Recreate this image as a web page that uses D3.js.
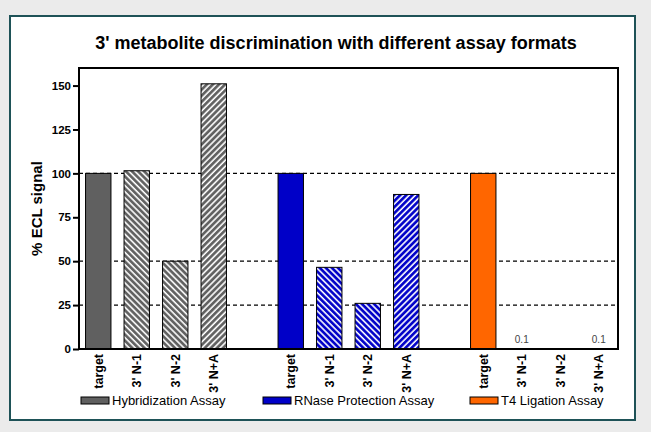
<!DOCTYPE html>
<html>
  <head>
    <title>3' metabolite discrimination</title>
    <script src="https://d3js.org/d3.v7.min.js"></script>
    <style>
      body { margin: 0; background: #ebebeb; }
      text { font-family: "Liberation Sans", Arial, sans-serif; }
    </style>
  </head>
  <body>
    <svg width="651" height="432"></svg>
    <script>
      const assays = ["Hybridization Assay", "RNase Protection Assay", "T4 Ligation Assay"];
      const probes = ["target", "3' N-1", "3' N-2", "3' N+A"];
      const hybridization = [100, 101.5, 50, 151];
      const rnase = [100, 46.5, 26, 88];
      const ligation = [100, 0.1, 0, 0.1];
      const yTicks = [0, 25, 50, 75, 100, 125, 150];
      const gridValues = [25, 50, 100];

      const colors = ["#606060", "#0000c8", "#ff6600"];
      const series = [hybridization, rnase, ligation];

      // flatten into bars, with spacer slots between groups
      const bars = [];
      const slots = [];
      assays.forEach((a, gi) => {
        probes.forEach((p, pi) => {
          const key = gi + "|" + pi;
          slots.push(key);
          bars.push({key, group: gi, probe: p, pi, value: series[gi][pi]});
        });
        if (gi < assays.length - 1) slots.push("gap" + gi);
      });

      const svg = d3.select("svg");
      const margin = {left: 79, right: 33, top: 68, bottom: 83};
      const width = 651 - margin.left - margin.right;
      const height = 432 - margin.top - margin.bottom;

      // outer frame
      svg.append("rect")
        .attr("x", 10).attr("y", 16)
        .attr("width", 625).attr("height", 404)
        .attr("fill", "#fff")
        .attr("stroke", "#1e5257")
        .attr("stroke-width", 2);

      // hatch patterns
      const defs = svg.append("defs");
      colors.forEach((c, i) => {
        [["back", -45], ["fwd", 45]].forEach(([name, angle]) => {
          const p = defs.append("pattern")
            .attr("id", "hatch-" + i + "-" + name)
            .attr("patternUnits", "userSpaceOnUse")
            .attr("width", 4.3).attr("height", 4.3)
            .attr("patternTransform", "rotate(" + angle + ")");
          p.append("rect").attr("width", 4.3).attr("height", 4.3).attr("fill", c);
          p.append("line")
            .attr("x1", 1).attr("x2", 1).attr("y1", 0).attr("y2", 4.3)
            .attr("stroke", "#fff").attr("stroke-width", 1.6);
        });
      });

      const g = svg.append("g").attr("transform", `translate(${margin.left},${margin.top})`);

      const x = d3.scaleBand().domain(slots).range([0, width]).paddingInner(0.34).paddingOuter(0.17);
      const y = d3.scaleLinear().domain([0, 160]).range([height, 0]);

      // dashed grid
      g.selectAll(".grid").data(gridValues).enter().append("line")
        .attr("x1", 0).attr("x2", width)
        .attr("y1", d => y(d)).attr("y2", d => y(d))
        .attr("stroke", "#000")
        .attr("stroke-width", 1.3)
        .attr("stroke-dasharray", "4,3");

      g.selectAll(".bar").data(bars).enter().append("rect")
        .attr("x", d => x(d.key))
        .attr("width", x.bandwidth())
        .attr("y", d => y(d.value))
        .attr("height", d => height - y(d.value))
        .attr("fill", d => d.pi === 0 ? colors[d.group]
          : "url(#hatch-" + d.group + "-" + (d.pi === 3 ? "fwd" : "back") + ")")
        .attr("stroke", "#000")
        .attr("stroke-width", 1)
        .attr("display", d => d.value > 1 ? null : "none");

      // small value labels
      g.selectAll(".small").data(bars.filter(d => d.value > 0 && d.value < 1)).enter().append("text")
        .attr("x", d => x(d.key) + x.bandwidth() / 2)
        .attr("y", d => y(d.value) - 6)
        .attr("text-anchor", "middle")
        .attr("font-size", 10)
        .attr("fill", "#444")
        .text(d => d.value);

      // plot box
      g.append("rect")
        .attr("width", width).attr("height", height)
        .attr("fill", "none").attr("stroke", "#000").attr("stroke-width", 2);

      // y axis
      const yAxis = g.append("g")
        .call(d3.axisLeft(y).tickValues(yTicks).tickSize(6).tickPadding(2));
      yAxis.select(".domain").remove();
      yAxis.selectAll("line").attr("stroke-width", 2);
      yAxis.selectAll("text").attr("font-size", 11.5).attr("font-weight", "bold").attr("fill", "#000");

      // x labels
      g.selectAll(".xl").data(bars).enter().append("text")
        .attr("transform", d => `translate(${x(d.key) + x.bandwidth() / 2 + 4.5},${height + 5}) rotate(-90)`)
        .attr("text-anchor", "end")
        .attr("font-size", 12.5)
        .attr("font-weight", "bold")
        .text(d => d.probe);

      // y label
      svg.append("text")
        .attr("transform", `translate(42,${margin.top + height / 2}) rotate(-90)`)
        .attr("text-anchor", "middle")
        .attr("font-size", 15)
        .attr("font-weight", "bold")
        .text("% ECL signal");

      // title
      svg.append("text")
        .attr("x", 336).attr("y", 49)
        .attr("text-anchor", "middle")
        .attr("font-size", 18)
        .attr("font-weight", "bold")
        .text("3' metabolite discrimination with different assay formats");

      // legend
      const legendX = [81, 263, 470];
      const leg = svg.selectAll(".leg").data(assays).enter().append("g")
        .attr("transform", (d, i) => `translate(${legendX[i]},397)`);
      leg.append("rect")
        .attr("width", 28).attr("height", 7)
        .attr("fill", (d, i) => colors[i])
        .attr("stroke", "#000").attr("stroke-width", 1);
      leg.append("text")
        .attr("x", 31).attr("y", 8)
        .attr("font-size", 13)
        .text(d => d);
    </script>
  </body>
</html>
